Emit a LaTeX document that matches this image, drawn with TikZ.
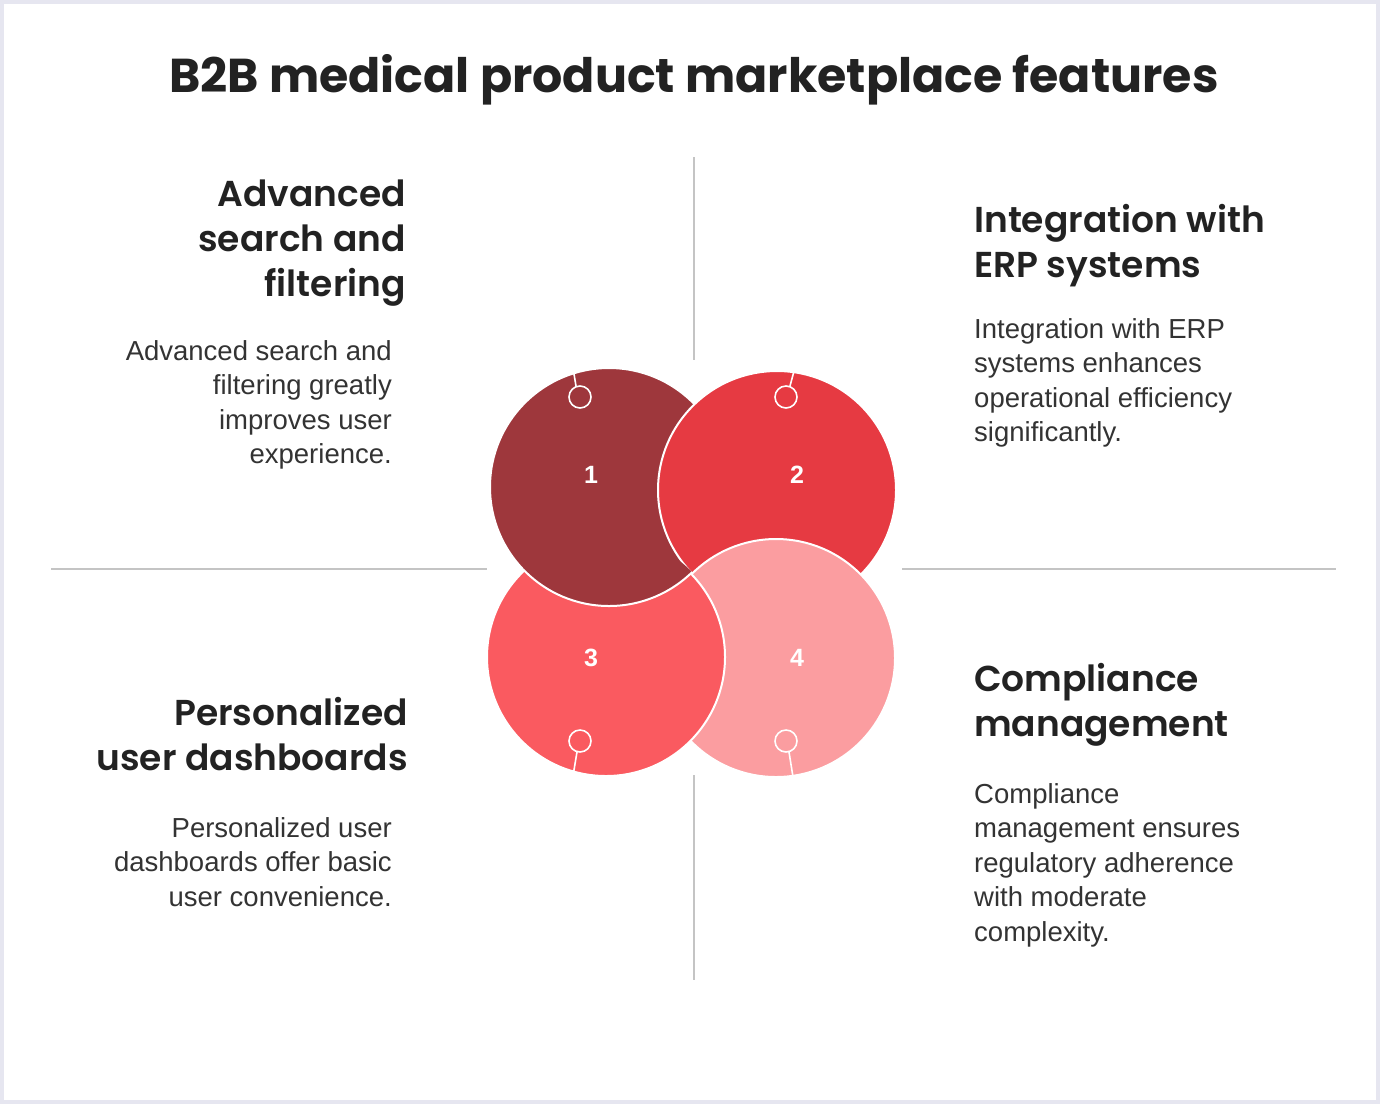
\documentclass[tikz,border=0pt]{standalone}
\usepackage{fontspec}
\setmainfont{Liberation Sans}
\newfontfamily\pop{Poppins}
\newfontfamily\popb{Poppins}[UprightFont=* Bold]
\newfontfamily\pops{Poppins}[UprightFont=* SemiBold]
\definecolor{cA}{HTML}{9E373C}
\definecolor{cB}{HTML}{E63A42}
\definecolor{cC}{HTML}{FA5A60}
\definecolor{cD}{HTML}{FB9DA0}
\definecolor{txt}{HTML}{333333}
\definecolor{head}{HTML}{222222}
\definecolor{grid}{HTML}{C4C4C4}
\definecolor{frame}{HTML}{E6E6F0}
\begin{document}
\begin{tikzpicture}[x=1pt,y=-1pt,
  hd/.style={font=\pops\fontsize{36}{45}\selectfont,text=head,inner sep=0pt},
  bd/.style={font=\fontsize{27.5}{34.5}\selectfont,text=txt,inner sep=0pt},
  num/.style={font=\bfseries\fontsize{25}{28}\selectfont,text=white},
  wl/.style={draw=white,line width=2pt},
  ring/.style={draw=white,line width=1.6pt}]
\useasboundingbox (0,0) rectangle (1380,1104);
\fill[frame] (0,0) rectangle (1380,1104);
\fill[white] (4,4) rectangle (1376,1100);
\node[font=\popb\fontsize{47.5}{52}\selectfont,text=head] (title) at (694,80) {B2B medical product marketplace features};
% dividers
\coordinate (v1) at (694,157); \coordinate (v2) at (694,360);
\coordinate (v3) at (694,775); \coordinate (v4) at (694,980);
\coordinate (h1) at (51,569); \coordinate (h2) at (487,569);
\coordinate (h3) at (902,569); \coordinate (h4) at (1336,569);
\draw[grid,line width=1.3pt] (v1)--(v2) (v3)--(v4) (h1)--(h2) (h3)--(h4);
% circles
\coordinate (c1) at (609,487); \coordinate (c2) at (777,490);
\coordinate (c3) at (606,657); \coordinate (c4) at (776,658);
\filldraw[fill=cA,wl] (c1) circle (119);
\filldraw[fill=cB,wl] (c2) circle (119);
\filldraw[fill=cD,wl] (c4) circle (119);
\filldraw[fill=cC,wl] (c3) circle (119);
\begin{scope}
\clip (c3) circle (121);
\clip (480,360) rectangle (694,800);
\filldraw[fill=cA,wl] (c1) circle (119);
\end{scope}
% rings
\draw[ring] (580,397) circle (11); \draw[ring] (576,386)--(573,368);
\draw[ring] (786,397) circle (11); \draw[ring] (790,386)--(794,371);
\draw[ring] (580,741) circle (11); \draw[ring] (577,752)--(573,776);
\draw[ring] (786,741) circle (11); \draw[ring] (789,752)--(793,777);
\node[num] (n1) at (591,475) {1};
\node[num] (n2) at (797,475) {2};
\node[num] (n3) at (591,658) {3};
\node[num] (n4) at (797,658) {4};
% texts
\node[hd,align=right,anchor=north east] (t1) at (406,180) {Advanced\\search and\\filtering};
\node[bd,align=right,anchor=north east] (b1) at (392,340) {Advanced search and\\filtering greatly\\improves user\\experience.};
\node[hd,align=left,anchor=north west] (t2) at (974,204) {Integration with\\ERP systems};
\node[bd,align=left,anchor=north west] (b2) at (974,318) {Integration with ERP\\systems enhances\\operational efficiency\\significantly.};
\node[hd,align=right,anchor=north east] (t3) at (408,697) {Personalized\\user dashboards};
\node[bd,align=right,anchor=north east] (b3) at (392,817) {Personalized user\\dashboards offer basic\\user convenience.};
\node[hd,align=left,anchor=north west] (t4) at (974,663) {Compliance\\management};
\node[bd,align=left,anchor=north west] (b4) at (974,783) {Compliance\\management ensures\\regulatory adherence\\with moderate\\complexity.};
\end{tikzpicture}
\end{document}
